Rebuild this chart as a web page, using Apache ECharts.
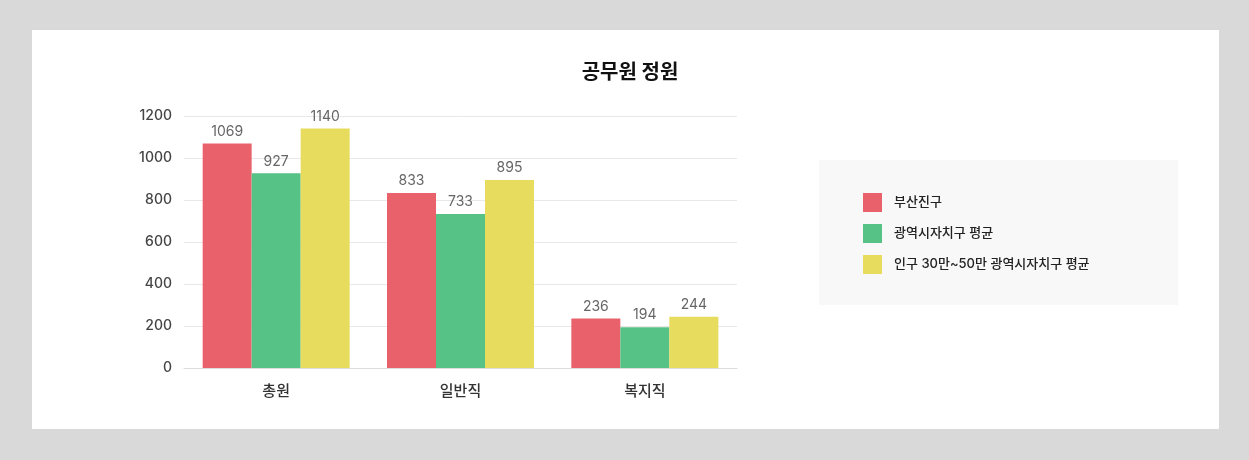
<!DOCTYPE html>
<html><head><meta charset="utf-8">
<script src="https://cdn.jsdelivr.net/npm/echarts@6/dist/echarts.min.js"></script>
<style>html,body{margin:0;padding:0;background:#d9d9d9}#c{width:1249px;height:460px}</style>
</head><body><div id="c"></div>
<script>
const categories = ['총원', '일반직', '복지직'];
const seriesNames = ['부산진구', '광역시자치구 평균', '인구 30만~50만 광역시자치구 평균'];
const busanjin = [1069, 833, 236];
const metroAvg = [927, 733, 194];
const popAvg = [1140, 895, 244];
const colors = ['#e9626b', '#57c285', '#e8dc5e'];
const font = 'Inter, "Noto Sans CJK KR", "Noto Sans", sans-serif';

const chart = echarts.init(document.getElementById('c'));
const values = [busanjin, metroAvg, popAvg];
chart.setOption({
  backgroundColor: '#d9d9d9',
  animation: false,
  textStyle: { fontFamily: font },
  graphic: [
    { type: 'rect', z: -10, shape: { x: 32, y: 30, width: 1187, height: 399 }, style: { fill: '#ffffff' } },
    { type: 'rect', z: -5, shape: { x: 819, y: 160, width: 359, height: 145 }, style: { fill: '#f8f8f8' } }
  ],
  title: {
    text: '공무원 정원', left: 625, top: 58, textAlign: 'center',
    textStyle: { fontFamily: font, fontSize: 20, fontWeight: 'bold', color: '#111' }
  },
  legend: {
    orient: 'vertical', left: 858, top: 188, itemWidth: 19, itemHeight: 19, itemGap: 12,
    icon: 'rect',
    textStyle: { fontFamily: font, fontSize: 13, fontWeight: 500, color: '#222', padding: [0, 0, 0, 7] },
    data: seriesNames
  },
  grid: { left: 184, right: 1249 - 737, top: 116, bottom: 460 - 368 },
  xAxis: {
    type: 'category', data: categories,
    axisLine: { lineStyle: { color: '#dddddd' } },
    axisTick: { show: false },
    axisLabel: { fontFamily: font, fontSize: 15, fontWeight: 500, color: '#333', margin: 16 }
  },
  yAxis: {
    type: 'value', min: 0, max: 1200, interval: 200,
    axisLine: { show: false }, axisTick: { show: false },
    splitLine: { lineStyle: { color: '#e8e8e8' } },
    axisLabel: { fontFamily: font, fontSize: 14, fontWeight: 500, color: '#444', margin: 12, formatter: v => String(v) }
  },
  series: seriesNames.map((n, i) => ({
    name: n, type: 'bar', data: values[i],
    barGap: 0, barWidth: 49,
    itemStyle: { color: colors[i] },
    label: { show: true, position: 'top', distance: 5, fontFamily: font, fontSize: 14, color: '#666' }
  }))
});
</script></body></html>
